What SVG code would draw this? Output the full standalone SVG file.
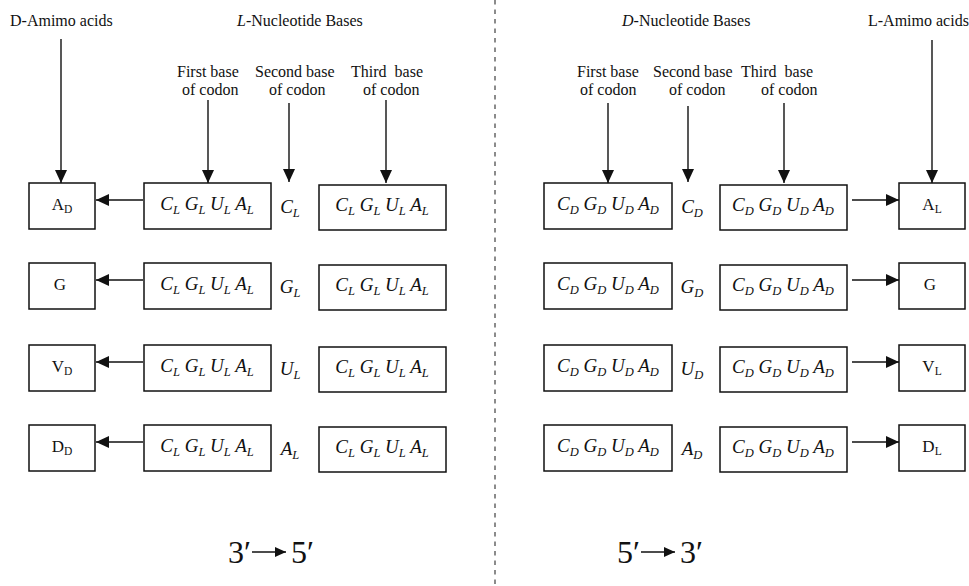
<svg xmlns="http://www.w3.org/2000/svg" width="969" height="586" viewBox="0 0 969 586">
<style>
text{font-family:"Liberation Serif","Times New Roman",serif;fill:#111}
.lab{font-size:16px}
.it{font-style:italic;font-size:19px}
.am{font-size:17px}
.s{font-size:12.5px}
.sa{font-size:11.5px}
.big{font-size:32px}
.box{fill:#fff;stroke:#111;stroke-width:1.5}
.arr{stroke:#111;stroke-width:1.4;fill:none;marker-end:url(#ah)}
</style>
<defs>
<marker id="ah" markerWidth="13" markerHeight="12" refX="13" refY="6" orient="auto" markerUnits="userSpaceOnUse"><path d="M0,0 L13,6 L0,12 Z" fill="#111"/></marker>
<marker id="ahs" markerWidth="11" markerHeight="10" refX="11" refY="5" orient="auto" markerUnits="userSpaceOnUse"><path d="M0,0 L11,5 L0,10 Z" fill="#111"/></marker>
</defs>
<rect width="969" height="586" fill="#fff"/>
<line x1="495" y1="0" x2="495" y2="586" stroke="#666" stroke-width="1.5" stroke-dasharray="4.5 5"/>

<g id="headers">
<text class="lab" x="10" y="26">D-Amimo acids</text>
<text class="lab" x="237" y="26"><tspan font-style="italic">L</tspan>-Nucleotide Bases</text>
<text class="lab" x="177" y="77">First base</text>
<text class="lab" x="182" y="95">of codon</text>
<text class="lab" x="255" y="77">Second base</text>
<text class="lab" x="269" y="95">of codon</text>
<text class="lab" x="351" y="77" xml:space="preserve">Third  base</text>
<text class="lab" x="363" y="95">of codon</text>
<text class="lab" x="622" y="26"><tspan font-style="italic">D</tspan>-Nucleotide Bases</text>
<text class="lab" x="868" y="26">L-Amimo acids</text>
<text class="lab" x="577" y="77">First base</text>
<text class="lab" x="580" y="95">of codon</text>
<text class="lab" x="653" y="77">Second base</text>
<text class="lab" x="669" y="95">of codon</text>
<text class="lab" x="741" y="77" xml:space="preserve">Third  base</text>
<text class="lab" x="761" y="95">of codon</text>
</g>

<g id="connectors">
<line class="arr" x1="61" y1="39" x2="61" y2="183"/>
<line class="arr" x1="208" y1="100" x2="208" y2="183"/>
<line class="arr" x1="289" y1="103" x2="289" y2="182"/>
<line class="arr" x1="386" y1="100" x2="386" y2="183"/>
<line class="arr" x1="608" y1="103" x2="608" y2="183"/>
<line class="arr" x1="688" y1="106" x2="688" y2="182"/>
<line class="arr" x1="784" y1="103" x2="784" y2="183"/>
<line class="arr" x1="932" y1="40" x2="932" y2="183"/>
<line class="arr" x1="143" y1="200" x2="96" y2="200"/>
<line class="arr" x1="143" y1="280" x2="96" y2="280"/>
<line class="arr" x1="143" y1="362" x2="96" y2="362"/>
<line class="arr" x1="143" y1="442" x2="96" y2="442"/>
<line class="arr" x1="852" y1="200" x2="899" y2="200"/>
<line class="arr" x1="852" y1="280" x2="899" y2="280"/>
<line class="arr" x1="852" y1="362" x2="899" y2="362"/>
<line class="arr" x1="852" y1="442" x2="899" y2="442"/>
</g>

<!-- Left panel rows -->
<g id="L-aa-1"><rect class="box" x="29" y="183" width="66" height="46"/><text class="am" x="62" y="210" text-anchor="middle">A<tspan class="sa" dy="3">D</tspan></text></g>
<g id="L-aa-2"><rect class="box" x="29" y="263" width="66" height="46"/><text class="am" x="60" y="290" text-anchor="middle">G</text></g>
<g id="L-aa-3"><rect class="box" x="29" y="345" width="66" height="46"/><text class="am" x="62" y="372" text-anchor="middle">V<tspan class="sa" dy="3">D</tspan></text></g>
<g id="L-aa-4"><rect class="box" x="29" y="425" width="66" height="46"/><text class="am" x="62" y="452" text-anchor="middle">D<tspan class="sa" dy="3">D</tspan></text></g>

<g id="L-first-1"><rect class="box" x="144" y="183" width="127" height="46"/><text class="it" x="207" y="210" text-anchor="middle">C<tspan class="s" dy="4">L</tspan><tspan dy="-4"> G</tspan><tspan class="s" dy="4">L</tspan><tspan dy="-4"> U</tspan><tspan class="s" dy="4">L</tspan><tspan dy="-4"> A</tspan><tspan class="s" dy="4">L</tspan></text></g>
<g id="L-first-2"><rect class="box" x="144" y="263" width="127" height="46"/><text class="it" x="207" y="290" text-anchor="middle">C<tspan class="s" dy="4">L</tspan><tspan dy="-4"> G</tspan><tspan class="s" dy="4">L</tspan><tspan dy="-4"> U</tspan><tspan class="s" dy="4">L</tspan><tspan dy="-4"> A</tspan><tspan class="s" dy="4">L</tspan></text></g>
<g id="L-first-3"><rect class="box" x="144" y="345" width="127" height="46"/><text class="it" x="207" y="372" text-anchor="middle">C<tspan class="s" dy="4">L</tspan><tspan dy="-4"> G</tspan><tspan class="s" dy="4">L</tspan><tspan dy="-4"> U</tspan><tspan class="s" dy="4">L</tspan><tspan dy="-4"> A</tspan><tspan class="s" dy="4">L</tspan></text></g>
<g id="L-first-4"><rect class="box" x="144" y="425" width="127" height="46"/><text class="it" x="207" y="452" text-anchor="middle">C<tspan class="s" dy="4">L</tspan><tspan dy="-4"> G</tspan><tspan class="s" dy="4">L</tspan><tspan dy="-4"> U</tspan><tspan class="s" dy="4">L</tspan><tspan dy="-4"> A</tspan><tspan class="s" dy="4">L</tspan></text></g>

<g id="L-second">
<text class="it" x="290" y="213" text-anchor="middle">C<tspan class="s" dy="4">L</tspan></text>
<text class="it" x="290" y="293" text-anchor="middle">G<tspan class="s" dy="4">L</tspan></text>
<text class="it" x="290" y="375" text-anchor="middle">U<tspan class="s" dy="4">L</tspan></text>
<text class="it" x="290" y="455" text-anchor="middle">A<tspan class="s" dy="4">L</tspan></text>
</g>

<g id="L-third-1"><rect class="box" x="319" y="185" width="127" height="45"/><text class="it" x="382" y="211" text-anchor="middle">C<tspan class="s" dy="4">L</tspan><tspan dy="-4"> G</tspan><tspan class="s" dy="4">L</tspan><tspan dy="-4"> U</tspan><tspan class="s" dy="4">L</tspan><tspan dy="-4"> A</tspan><tspan class="s" dy="4">L</tspan></text></g>
<g id="L-third-2"><rect class="box" x="319" y="265" width="127" height="45"/><text class="it" x="382" y="291" text-anchor="middle">C<tspan class="s" dy="4">L</tspan><tspan dy="-4"> G</tspan><tspan class="s" dy="4">L</tspan><tspan dy="-4"> U</tspan><tspan class="s" dy="4">L</tspan><tspan dy="-4"> A</tspan><tspan class="s" dy="4">L</tspan></text></g>
<g id="L-third-3"><rect class="box" x="319" y="347" width="127" height="45"/><text class="it" x="382" y="373" text-anchor="middle">C<tspan class="s" dy="4">L</tspan><tspan dy="-4"> G</tspan><tspan class="s" dy="4">L</tspan><tspan dy="-4"> U</tspan><tspan class="s" dy="4">L</tspan><tspan dy="-4"> A</tspan><tspan class="s" dy="4">L</tspan></text></g>
<g id="L-third-4"><rect class="box" x="319" y="427" width="127" height="45"/><text class="it" x="382" y="453" text-anchor="middle">C<tspan class="s" dy="4">L</tspan><tspan dy="-4"> G</tspan><tspan class="s" dy="4">L</tspan><tspan dy="-4"> U</tspan><tspan class="s" dy="4">L</tspan><tspan dy="-4"> A</tspan><tspan class="s" dy="4">L</tspan></text></g>

<!-- Right panel rows -->
<g id="R-first-1"><rect class="box" x="544" y="183" width="128" height="46"/><text class="it" x="608" y="210" text-anchor="middle">C<tspan class="s" dy="4">D</tspan><tspan dy="-4"> G</tspan><tspan class="s" dy="4">D</tspan><tspan dy="-4"> U</tspan><tspan class="s" dy="4">D</tspan><tspan dy="-4"> A</tspan><tspan class="s" dy="4">D</tspan></text></g>
<g id="R-first-2"><rect class="box" x="544" y="263" width="128" height="46"/><text class="it" x="608" y="290" text-anchor="middle">C<tspan class="s" dy="4">D</tspan><tspan dy="-4"> G</tspan><tspan class="s" dy="4">D</tspan><tspan dy="-4"> U</tspan><tspan class="s" dy="4">D</tspan><tspan dy="-4"> A</tspan><tspan class="s" dy="4">D</tspan></text></g>
<g id="R-first-3"><rect class="box" x="544" y="345" width="128" height="46"/><text class="it" x="608" y="372" text-anchor="middle">C<tspan class="s" dy="4">D</tspan><tspan dy="-4"> G</tspan><tspan class="s" dy="4">D</tspan><tspan dy="-4"> U</tspan><tspan class="s" dy="4">D</tspan><tspan dy="-4"> A</tspan><tspan class="s" dy="4">D</tspan></text></g>
<g id="R-first-4"><rect class="box" x="544" y="425" width="128" height="46"/><text class="it" x="608" y="452" text-anchor="middle">C<tspan class="s" dy="4">D</tspan><tspan dy="-4"> G</tspan><tspan class="s" dy="4">D</tspan><tspan dy="-4"> U</tspan><tspan class="s" dy="4">D</tspan><tspan dy="-4"> A</tspan><tspan class="s" dy="4">D</tspan></text></g>

<g id="R-second">
<text class="it" x="692" y="213" text-anchor="middle">C<tspan class="s" dy="4">D</tspan></text>
<text class="it" x="692" y="293" text-anchor="middle">G<tspan class="s" dy="4">D</tspan></text>
<text class="it" x="692" y="375" text-anchor="middle">U<tspan class="s" dy="4">D</tspan></text>
<text class="it" x="692" y="455" text-anchor="middle">A<tspan class="s" dy="4">D</tspan></text>
</g>

<g id="R-third-1"><rect class="box" x="720" y="185" width="127" height="45"/><text class="it" x="783" y="211" text-anchor="middle">C<tspan class="s" dy="4">D</tspan><tspan dy="-4"> G</tspan><tspan class="s" dy="4">D</tspan><tspan dy="-4"> U</tspan><tspan class="s" dy="4">D</tspan><tspan dy="-4"> A</tspan><tspan class="s" dy="4">D</tspan></text></g>
<g id="R-third-2"><rect class="box" x="720" y="265" width="127" height="45"/><text class="it" x="783" y="291" text-anchor="middle">C<tspan class="s" dy="4">D</tspan><tspan dy="-4"> G</tspan><tspan class="s" dy="4">D</tspan><tspan dy="-4"> U</tspan><tspan class="s" dy="4">D</tspan><tspan dy="-4"> A</tspan><tspan class="s" dy="4">D</tspan></text></g>
<g id="R-third-3"><rect class="box" x="720" y="347" width="127" height="45"/><text class="it" x="783" y="373" text-anchor="middle">C<tspan class="s" dy="4">D</tspan><tspan dy="-4"> G</tspan><tspan class="s" dy="4">D</tspan><tspan dy="-4"> U</tspan><tspan class="s" dy="4">D</tspan><tspan dy="-4"> A</tspan><tspan class="s" dy="4">D</tspan></text></g>
<g id="R-third-4"><rect class="box" x="720" y="427" width="127" height="45"/><text class="it" x="783" y="453" text-anchor="middle">C<tspan class="s" dy="4">D</tspan><tspan dy="-4"> G</tspan><tspan class="s" dy="4">D</tspan><tspan dy="-4"> U</tspan><tspan class="s" dy="4">D</tspan><tspan dy="-4"> A</tspan><tspan class="s" dy="4">D</tspan></text></g>

<g id="R-aa-1"><rect class="box" x="899" y="183" width="66" height="46"/><text class="am" x="932" y="210" text-anchor="middle">A<tspan class="sa" dy="3">L</tspan></text></g>
<g id="R-aa-2"><rect class="box" x="899" y="263" width="66" height="46"/><text class="am" x="930" y="290" text-anchor="middle">G</text></g>
<g id="R-aa-3"><rect class="box" x="899" y="345" width="66" height="46"/><text class="am" x="932" y="372" text-anchor="middle">V<tspan class="sa" dy="3">L</tspan></text></g>
<g id="R-aa-4"><rect class="box" x="899" y="425" width="66" height="46"/><text class="am" x="932" y="452" text-anchor="middle">D<tspan class="sa" dy="3">L</tspan></text></g>

<g id="dir-left">
<text class="big" x="228" y="563">3′</text>
<line x1="252" y1="552" x2="286" y2="552" stroke="#111" stroke-width="1.6" marker-end="url(#ahs)"/>
<text class="big" x="291" y="563">5′</text>
</g>
<g id="dir-right">
<text class="big" x="617" y="563">5′</text>
<line x1="641" y1="552" x2="675" y2="552" stroke="#111" stroke-width="1.6" marker-end="url(#ahs)"/>
<text class="big" x="680" y="563">3′</text>
</g>
</svg>
